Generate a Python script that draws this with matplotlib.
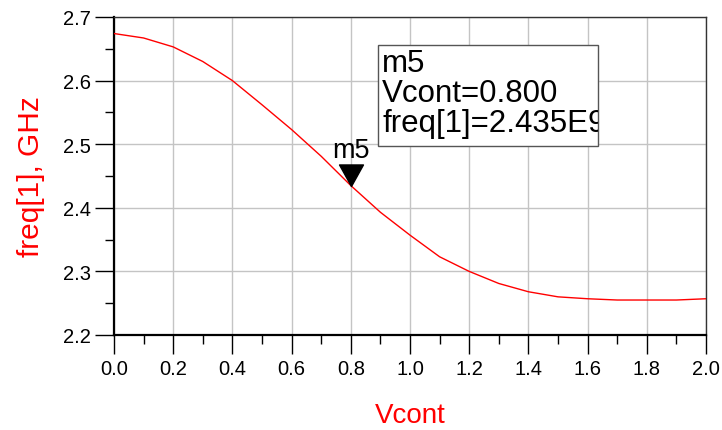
import numpy as np
import matplotlib.pyplot as plt
from matplotlib.patches import Rectangle
from matplotlib.path import Path
from matplotlib.ticker import MultipleLocator, FormatStrFormatter

plt.rcParams['font.family'] = ['Liberation Sans', 'DejaVu Sans']

vcont = [0.0, 0.1, 0.2, 0.3, 0.4, 0.5, 0.6, 0.7, 0.8, 0.9, 1.0,
         1.1, 1.2, 1.3, 1.4, 1.5, 1.6, 1.7, 1.8, 1.9, 2.0]
freq_ghz = [2.674, 2.667, 2.653, 2.630, 2.600, 2.562, 2.523, 2.481, 2.435, 2.393, 2.357,
            2.323, 2.300, 2.281, 2.268, 2.260, 2.257, 2.255, 2.255, 2.255, 2.257]
marker_x = 0.8
marker_y = 2.435
marker_lines = ["m5", "Vcont=0.800", "freq[1]=2.435E9"]

fig = plt.figure(figsize=(7.22, 4.31), dpi=100)
ax = fig.add_axes([114 / 722, 1 - 336 / 431, 592 / 722, 318 / 431])

ax.plot(vcont, freq_ghz, color='red', lw=1.0, zorder=3)

ax.set_xlim(0, 2.0)
ax.set_ylim(2.2, 2.7)
ax.xaxis.set_major_locator(MultipleLocator(0.2))
ax.xaxis.set_minor_locator(MultipleLocator(0.1))
ax.yaxis.set_major_locator(MultipleLocator(0.1))
ax.yaxis.set_minor_locator(MultipleLocator(0.05))
ax.xaxis.set_major_formatter(FormatStrFormatter('%.1f'))
ax.yaxis.set_major_formatter(FormatStrFormatter('%.1f'))
ax.grid(True, which='major', color='#c4c4c4', lw=1.0, zorder=0)
ax.set_axisbelow(True)
ax.tick_params(which='major', direction='out', length=13.5, width=1.0, labelsize=14.5)
ax.tick_params(axis='x', which='major', pad=4)
ax.tick_params(axis='y', which='major', pad=3)
ax.tick_params(which='minor', direction='out', length=6.5, width=1.0)
for side in ['left', 'bottom']:
    ax.spines[side].set_linewidth(1.6)
for side in ['top', 'right']:
    ax.spines[side].set_linewidth(1.0)
    ax.spines[side].set_color('#333333')

ax.set_xlabel('Vcont', color='red', fontsize=20, labelpad=17)
ax.set_ylabel('freq[1], GHz', color='red', fontsize=21.5, labelpad=13)

# marker triangle with its tip on the curve
tri = Path([(-1, 1.8), (1, 1.8), (0, 0), (-1, 1.8)],
           [Path.MOVETO, Path.LINETO, Path.LINETO, Path.CLOSEPOLY])
ax.plot([marker_x], [marker_y], marker=tri, markersize=31, color='black', zorder=4)
ax.annotate(marker_lines[0], (marker_x, marker_y), xytext=(0, 20.5), textcoords='offset points',
            ha='center', va='baseline', fontsize=19.5, zorder=4)

# readout box, text cut at its right edge
box = Rectangle((0.892, 2.497), 0.743, 0.159, facecolor='white', edgecolor='#555555',
                lw=1.0, zorder=5)
ax.add_patch(box)
for i, line in enumerate(marker_lines):
    t = ax.text(0.906, 2.652 - i * 0.0475, line, fontsize=22.5, va='top', ha='left',
                zorder=6, clip_on=True)
    t.set_clip_path(box)

fig.savefig('out.png', dpi=100)
